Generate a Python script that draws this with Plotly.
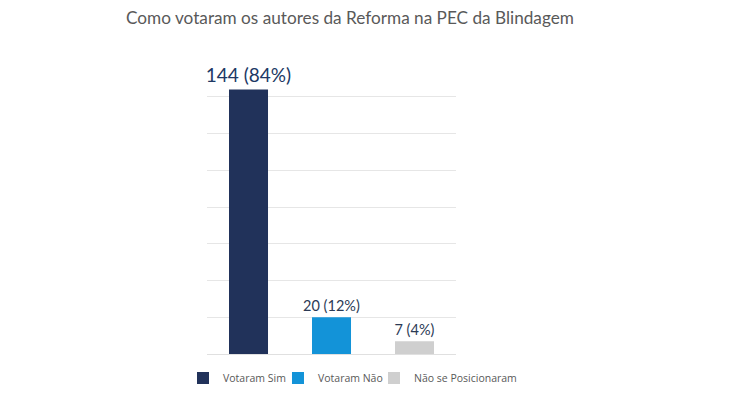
import plotly.graph_objects as go

categories = ["Votaram Sim", "Votaram Não", "Não se Posicionaram"]
values = [144, 20, 7]
percents = ["84%", "12%", "4%"]
colors = ["#21325a", "#1393d8", "#cfcfcf"]
label_sizes = [19, 14.5, 14.5]
label_colors = ["#203864", "#2b3a55", "#2b3a55"]
legend_ids = ["legend", "legend2", "legend3"]
legend_x = [-0.0964, 0.2851, 0.6707]

fig = go.Figure()
for i, (cat, v, p) in enumerate(zip(categories, values, percents)):
    fig.add_trace(go.Bar(
        x=[i], y=[v], name=cat, legend=legend_ids[i], showlegend=True,
        marker=dict(color=colors[i], line=dict(width=0)),
        width=0.47,
        text=[f"{v} ({p})"], textposition="outside", constraintext="none",
        textfont=dict(family="Lato", size=label_sizes[i], color=label_colors[i]),
        cliponaxis=False, hoverinfo="skip",
    ))

# page body has an 8px offset; figure laid out in its own coordinates
W, H = 729, 391
leg_style = dict(orientation="h", xanchor="left", y=-0.082, yanchor="middle",
                 font=dict(family="Open Sans", size=10.5, color="#595959"),
                 itemwidth=30, bgcolor="rgba(0,0,0,0)")
fig.update_layout(
    width=W, height=H, showlegend=True,
    margin=dict(l=199, r=281, t=52, b=45, autoexpand=False),
    paper_bgcolor="white", plot_bgcolor="white",
    barmode="overlay",
    title=dict(text="Como votaram os autores da Reforma na PEC da Blindagem",
               x=342 / W, xanchor="center", y=1 - 10 / H, yanchor="middle",
               font=dict(family="Lato", size=17.2, color="#595959")),
    legend=dict(x=legend_x[0], **leg_style),
    legend2=dict(x=legend_x[1], **leg_style),
    legend3=dict(x=legend_x[2], **leg_style),
    xaxis=dict(range=[-0.5, 2.5], showticklabels=False, showgrid=False,
               zeroline=False, showline=False, ticks=""),
    yaxis=dict(range=[0, 160], dtick=20, showticklabels=False, showgrid=True,
               gridcolor="#e6e6e6", gridwidth=1, zeroline=True, zerolinecolor="#e0e0e0",
               zerolinewidth=1, showline=False, ticks=""),
)

fig.write_html("out.html")
